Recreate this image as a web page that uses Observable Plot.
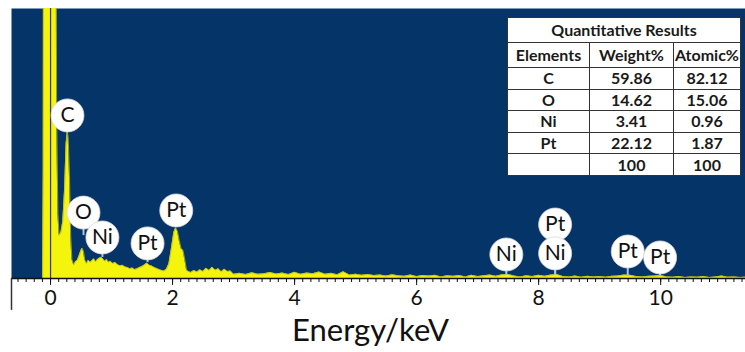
<!DOCTYPE html>
<html><head><meta charset="utf-8">
<script src="https://cdn.jsdelivr.net/npm/d3@7"></script>
<script src="https://cdn.jsdelivr.net/npm/@observablehq/plot@0.6"></script>
<style>
body{margin:0;background:#fff;font-family:Lato,"Open Sans",sans-serif;}
#wrap{position:relative;width:745px;height:352px;}
#tbl{position:absolute;left:507px;top:17px;border-collapse:collapse;background:#fff;font-weight:bold;color:#1a1a1a;font-size:16px;table-layout:fixed;}
#tbl td{border:1px solid #333;text-align:center;padding:0;line-height:1;white-space:nowrap;}
</style></head><body><div id="wrap"></div>
<script>
// Spectrum (energy in keV, counts in % of visible full scale)
const energy = [-0.64,-0.2,-0.13,-0.12,-0.115,0.09,0.10,0.12,0.14,0.17,0.20,0.23,0.255,0.275,0.29,0.31,0.33,0.35,0.38,0.41,0.44,0.47,0.50,0.52,0.54,0.56,0.59,0.62,0.65,0.68,0.71,0.74,0.77,0.80,0.83,0.86,0.89,0.92,0.95,0.98,1.02,1.06,1.10,1.14,1.18,1.22,1.26,1.30,1.34,1.38,1.42,1.46,1.50,1.54,1.58,1.62,1.66,1.70,1.74,1.78,1.82,1.86,1.90,1.94,1.98,2.02,2.05,2.08,2.11,2.14,2.17,2.20,2.23,2.27,
2.3,2.35,2.4,2.45,2.5,2.55,2.6,2.65,2.7,2.75,2.8,2.85,2.9,2.95,3.0,3.1,3.2,3.3,3.4,3.5,3.6,3.7,3.8,3.9,4.0,4.1,4.2,4.3,4.4,4.5,4.6,4.7,4.8,4.9,5.0,5.1,5.2,5.3,5.4,5.5,5.6,5.7,5.8,5.9,6.0,6.1,6.2,6.3,6.4,6.5,6.6,6.7,6.8,6.9,7.0,7.1,7.2,7.3,7.4,7.5,7.6,7.7,7.8,7.9,8.0,8.1,8.2,8.3,8.4,8.5,8.6,8.7,8.8,8.9,9.0,9.1,9.2,9.3,9.4,9.5,9.6,9.7,9.8,9.9,10.0,10.1,10.2,10.3,10.4,10.5,10.6,10.7,10.8,10.9,11.0,11.1,11.2,11.3,11.4];
const counts = [0,0,0,40,150,150,60,24,16,17,21,33,50,54.5,52,38,16,7,5,6.2,6.8,8.5,10.5,11.2,10,7,5.6,6.8,6,6.6,7.3,6.2,7,7.5,7.9,7.2,6.4,7,6,6.4,5.6,5.9,5.1,4.7,4.9,4.3,4.1,3.6,3.9,3.3,3.6,4.1,4.4,5,5.7,4.9,4.6,4.1,3.7,3.3,3.0,2.8,3.4,5.5,11,17,18.8,17.5,14,11,10.5,7,3,2.5,
2.2,3.0,2.4,3.2,2.6,3.8,3.0,4.2,3.1,3.6,2.5,3.4,2.6,2.8,1.6,1.9,1.5,2.1,1.6,1.8,2.2,1.7,2.0,1.5,2.3,1.6,2.0,1.8,2.4,1.6,1.9,1.4,2.5,1.3,1.6,1.2,1.5,1.1,1.3,0.9,1.4,1.0,0.8,1.3,0.7,1.1,0.9,1.2,0.6,1.0,0.8,1.1,0.6,1.2,0.7,1.0,1.3,0.8,1.4,1.5,0.9,0.6,1.0,0.7,1.2,0.8,1.3,1.5,0.7,0.6,0.9,0.5,0.8,0.6,0.7,0.5,0.8,0.9,1.3,1.2,0.7,0.6,0.8,0.9,1.1,0.6,0.5,0.7,0.4,0.6,0.5,0.7,0.4,0.6,0.9,0.5,0.6,0.4,0.5];

// Peak labels
const labelText = ["C","O","Ni","Pt","Pt","Ni","Pt","Ni","Pt","Pt"];
const labelEnergy = [0.277,0.54,0.85,1.59,2.06,7.47,8.27,8.27,9.46,9.99];
const labelCenter = [60.4,24.4,15.2,13.0,25.2,8.9,20.0,9.3,10.0,7.8];
const labelPeak = [54,15.9,7.8,5.9,18.9,1.1,1.1,1.1,1.1,1.1];

// Axis ticks
const majorTicks = [0,2,4,6,8,10];
const majorTickLabels = ["0","2","4","6","8","10"];
const xDomain = [-0.64, 11.39];

// Quantitative results table
const tableTitle = "Quantitative Results";
const tableHeader = ["Elements","Weight%","Atomic%"];
const tableElements = ["C","O","Ni","Pt",""];
const tableWeight = ["59.86","14.62","3.41","22.12","100"];
const tableAtomic = ["82.12","15.06","0.96","1.87","100"];

const spectrum = energy.map((e,i)=>({e, c: counts[i]}));
const labels = labelText.map((t,i)=>({t, e: labelEnergy[i], yc: labelCenter[i], yp: labelPeak[i]}));
const minorTicks = d3.range(-4, 86).map(k => k*2/15).filter(v => v > xDomain[0] && v < xDomain[1]);

const chart = Plot.plot({
  width: 745, height: 352,
  marginTop: 8, marginBottom: 74, marginLeft: 11, marginRight: 0,
  style: {fontFamily: "Lato, 'Open Sans', sans-serif", background: "white", overflow: "visible"},
  x: {domain: xDomain, label: null},
  y: {domain: [0, 100], axis: null},
  marks: [
    Plot.frame({fill: "#053468", stroke: null}),
    Plot.areaY(spectrum, {x: "e", y: "c", fill: "#f4f40c", clip: true}),
    Plot.lineY(spectrum, {x: "e", y: "c", stroke: "#b8b820", strokeWidth: 0.8, clip: true}),
    Plot.ruleX([0], {stroke: "#3a3a22", strokeWidth: 1.2}),
    Plot.ruleY([0], {stroke: "#111", strokeWidth: 1.5}),
    Plot.ruleX([xDomain[0]], {y1: 0, y2: -11.8, stroke: "#333", strokeWidth: 1.5, clip: false}),
    Plot.axisX({ticks: minorTicks, tickSize: 4, tickFormat: () => "", stroke: "#111", label: null}),
    Plot.axisX({ticks: majorTicks, tickSize: 7, tickPadding: 5, tickFormat: (d) => majorTickLabels[majorTicks.indexOf(d)], fontSize: 21, fill: "#111", stroke: "#111", label: null}),
    Plot.text(["Energy/keV"], {frameAnchor: "bottom", lineAnchor: "top", dy: 40, dx: -8, fontSize: 31, fill: "#111"}),
    Plot.ruleX(labels, {x: "e", y1: "yp", y2: "yc", stroke: "#a9c6e6", strokeWidth: 2}),
    Plot.dot(labels, {x: "e", y: "yc", r: 16.5, fill: "white", stroke: "#d8d8d8", strokeWidth: 0.8}),
    Plot.text(labels, {x: "e", y: "yc", text: "t", fontSize: 21, fill: "#111"})
  ]
});
const wrap = document.getElementById("wrap");
wrap.appendChild(chart);

// table
const tbl = document.createElement("table");
tbl.id = "tbl";
const colW = [82, 84, 67];
let html = `<colgroup>${colW.map(w=>`<col style="width:${w}px">`).join("")}</colgroup>`;
html += `<tr style="height:25px"><td colspan="3">${tableTitle}</td></tr>`;
html += `<tr style="height:25px">${tableHeader.map(h=>`<td>${h}</td>`).join("")}</tr>`;
tableElements.forEach((el,i)=>{
  html += `<tr style="height:21.6px"><td>${el}</td><td>${tableWeight[i]}</td><td>${tableAtomic[i]}</td></tr>`;
});
tbl.innerHTML = html;
wrap.appendChild(tbl);
</script>
</body></html>
